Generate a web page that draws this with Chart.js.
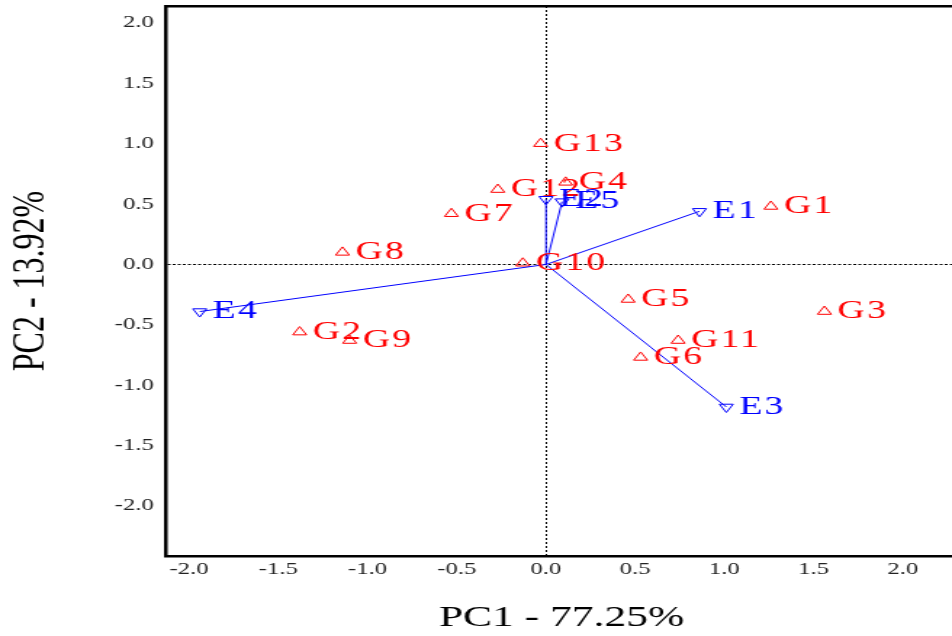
<!DOCTYPE html>
<html>
<head>
<meta charset="utf-8">
<script src="https://cdn.jsdelivr.net/npm/chart.js@4"></script>
<style>
  html, body { margin: 0; padding: 0; background: #fff; overflow: hidden; }
  /* the reference figure is stretched sideways, so the chart is too */
  .wrap { width: 660px; height: 636px; transform: scaleX(1.4512); transform-origin: 0 0; }
</style>
</head>
<body>
<div class="wrap"><canvas id="chart" width="660" height="636"></canvas></div>
<script>
// genotypes (red, up triangles)
const gNames = ['G1', 'G2', 'G3', 'G4', 'G5', 'G6', 'G7', 'G8', 'G9', 'G10', 'G11', 'G12', 'G13']
const gPC1 = [1.26, -1.38, 1.56, 0.11, 0.46, 0.53, -0.53, -1.14, -1.10, -0.13, 0.74, -0.27, -0.03]
const gPC2 = [0.48, -0.56, -0.39, 0.68, -0.29, -0.77, 0.42, 0.10, -0.63, 0.01, -0.63, 0.62, 1.0]

// environments (blue, down triangles, vectors from origin)
const eNames = ['E1', 'E2', 'E3', 'E4', 'E5']
const ePC1 = [0.86, 0.0, 1.01, -1.94, 0.09]
const ePC2 = [0.44, 0.54, -1.18, -0.39, 0.52]

const xTicks = [-2.0, -1.5, -1.0, -0.5, 0.0, 0.5, 1.0, 1.5, 2.0]
const yTicks = [-2.0, -1.5, -1.0, -0.5, 0.0, 0.5, 1.0, 1.5, 2.0]

const red = 'rgb(255,0,0)'
const blue = 'rgb(0,0,255)'
const serif = '"Liberation Serif", "Times New Roman", serif'

let datasets = []

// vectors
for (let i = 0; i < eNames.length; i++) {
    datasets.push({
        data: [{x: 0, y: 0}, {x: ePC1[i], y: ePC2[i]}],
        showLine: true,
        borderColor: blue,
        borderWidth: 1,
        pointRadius: 0
    })
}

datasets.push({
    data: gPC1.map((v, i) => ({x: v, y: gPC2[i]})),
    names: gNames,
    borderColor: red,
    backgroundColor: 'rgba(0,0,0,0)',
    borderWidth: 1,
    pointStyle: 'triangle',
    pointRadius: 5.5
})

datasets.push({
    data: ePC1.map((v, i) => ({x: v, y: ePC2[i]})),
    names: eNames,
    borderColor: blue,
    backgroundColor: 'rgba(0,0,0,0)',
    borderWidth: 1,
    pointStyle: 'triangle',
    rotation: 180,
    pointRadius: 5.5
})

const pointLabels = {
    id: 'pointLabels',
    afterDatasetsDraw(chart) {
        let ctx = chart.ctx
        chart.data.datasets.forEach((ds, i) => {
            if (!ds.names) return
            let meta = chart.getDatasetMeta(i)
            ctx.save()
            ctx.font = '26px ' + serif
            ctx.letterSpacing = '1.5px'
            ctx.fillStyle = ds.borderColor
            ctx.textBaseline = 'middle'
            ctx.textAlign = 'left'
            meta.data.forEach((pt, j) => ctx.fillText(ds.names[j], pt.x + 9, pt.y))
            ctx.restore()
        })
    }
}

// only the zero line of each axis is drawn, dotted
const zeroLine = c => (c.tick && c.tick.value === 0) ? '#000' : 'rgba(0,0,0,0)'

const noPadding = s => {
    s.paddingLeft = 0
    s.paddingRight = 0
    s.paddingTop = 0
    s.paddingBottom = 0
}

new Chart(document.getElementById('chart'), {
    type: 'scatter',
    data: { datasets: datasets },
    plugins: [pointLabels],
    options: {
        responsive: false,
        animation: false,
        layout: { padding: 0, autoPadding: false },
        plugins: { legend: { display: false }, tooltip: { enabled: false } },
        scales: {
            x: {
                position: 'bottom',
                min: -2.132,
                max: 2.307,
                afterBuildTicks: s => { s.ticks = xTicks.map(v => ({value: v})) },
                afterFit: s => { s.height = 80; noPadding(s) },
                grid: { color: zeroLine, lineWidth: 1, drawTicks: false },
                border: { display: true, color: '#000', width: 2.5, dash: [2, 2] },
                ticks: {
                    padding: 3,
                    color: '#222',
                    font: { family: serif, size: 17 },
                    callback: v => v.toFixed(1)
                },
                title: {
                    display: true,
                    text: 'PC1 - 77.25%',
                    color: '#000',
                    font: { family: serif, size: 30 },
                    padding: { top: 0, bottom: 0 }
                }
            },
            x2: {
                position: 'top',
                min: -2.132,
                max: 2.307,
                afterFit: s => { s.height = 6; noPadding(s) },
                grid: { display: false, drawTicks: false },
                border: { display: true, color: '#000', width: 2.5 },
                ticks: { display: false }
            },
            y: {
                min: -2.414,
                max: 2.14,
                afterBuildTicks: s => { s.ticks = yTicks.map(v => ({value: v})) },
                afterFit: s => { s.width = 114; noPadding(s) },
                grid: { color: zeroLine, lineWidth: 1, drawTicks: false },
                border: { display: true, color: '#000', width: 2.5, dash: [2, 1.5] },
                ticks: {
                    padding: 8,
                    color: '#222',
                    font: { family: serif, size: 17 },
                    callback: v => v.toFixed(1)
                },
                title: {
                    display: true,
                    text: 'PC2 - 13.92%',
                    color: '#000',
                    font: { family: serif, size: 32 },
                    padding: { top: 2, bottom: 0 }
                }
            }
        }
    }
})
</script>
</body>
</html>
